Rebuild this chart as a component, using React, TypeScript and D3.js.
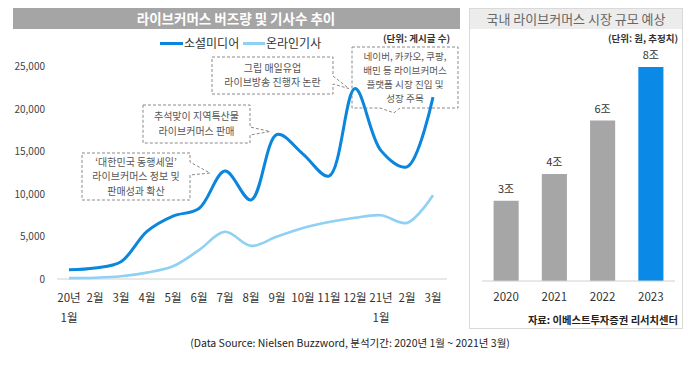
import * as d3 from "d3";

const FONT = "'Noto Sans CJK KR', 'Noto Sans', sans-serif";

// left chart data
const monthTop = ["20년", "2월", "3월", "4월", "5월", "6월", "7월", "8월", "9월", "10월", "11월", "12월", "21년", "2월", "3월"];
const monthBottom = ["1월", "", "", "", "", "", "", "", "", "", "", "", "1월", "", ""];
const socialMedia = [1080, 1300, 2030, 5600, 7400, 8300, 12700, 9300, 17000, 14700, 12100, 22400, 15100, 13200, 21400];
const onlineNews = [100, 150, 320, 750, 1500, 3400, 5550, 3900, 5000, 6000, 6700, 7200, 7500, 6600, 9850];
const yTicks = [0, 5000, 10000, 15000, 20000, 25000];

// right chart data
const years = ["2020", "2021", "2022", "2023"];
const marketSize = [3, 4, 6, 8];

const callouts = [
  { lines: ["그립 매일유업", "라이브방송 진행자 논란"], box: [212, 57, 333, 94], side: "right", base: [76, 84], at: 11, dx: -6, dy: 0 },
  { lines: ["네이버, 카카오, 쿠팡,", "배민 등 라이브커머스", "플랫폼 시장 진입 및", "성장 주목"], box: [352, 47, 458, 108], side: "bottom", base: [380, 400], at: 13, dx: -13, dy: -54 },
  { lines: ["추석맞이 지역특산물", "라이브커머스 판매"], box: [143, 105, 250, 143], side: "right", base: [127, 135], at: 8, dx: -7, dy: -3 },
  { lines: ["‘대한민국 동행세일’", "라이브커머스 정보 및", "판매성과 확산"], box: [82, 153, 190, 200], side: "right", base: [162, 175], at: 6, dx: -15, dy: 2 },
];

function calloutPath(box: number[], side: string, base: number[], tx: number, ty: number) {
  const [x0, y0, x1, y1] = box;
  if (side === "right") {
    return `M${x0},${y0}H${x1}V${base[0]}L${tx},${ty}L${x1},${base[1]}V${y1}H${x0}Z`;
  }
  return `M${x0},${y0}H${x1}V${y1}H${base[1]}L${tx},${ty}L${base[0]},${y1}H${x0}Z`;
}

const LineChart = () => {
  const x = d3.scalePoint<number>().domain(d3.range(monthTop.length)).range([69, 433]);
  const y = d3.scaleLinear().domain([0, 25000]).range([279, 66.5]);
  const line = d3
    .line<number>()
    .x((_, i) => x(i)!)
    .y((d) => y(d))
    .curve(d3.curveCatmullRom.alpha(0.5));

  return (
    <g fontFamily={FONT}>
      <rect x={13} y={8} width={447} height={21} fill="#a5a5a5" />
      <text x={236} y={23.5} textAnchor="middle" fill="#fff" fontSize={13.5} fontWeight={700}>
        라이브커머스 버즈량 및 기사수 추이
      </text>

      {/* legend */}
      <line x1={160} x2={183} y1={43.5} y2={43.5} stroke="#0a86dc" strokeWidth={3} />
      <text x={184} y={48} fontSize={12} fill="#333">소셜미디어</text>
      <line x1={243} x2={265} y1={43.5} y2={43.5} stroke="#8fd0f5" strokeWidth={3} />
      <text x={266} y={48} fontSize={12} fill="#333">온라인기사</text>
      <text x={450} y={42} textAnchor="end" fontSize={9.5} fontWeight={700} fill="#333">(단위: 게시글 수)</text>

      {yTicks.map((t) => (
        <text key={t} x={45} y={y(t) + 3.5} textAnchor="end" fontSize={10} fill="#444">
          {d3.format(",")(t)}
        </text>
      ))}
      <line x1={57} x2={447} y1={y(0)} y2={y(0)} stroke="#d0d0d0" strokeWidth={1} />

      {monthTop.map((m, i) => (
        <g key={i}>
          <text x={x(i)} y={302} textAnchor="middle" fontSize={11.5} fill="#333">{m}</text>
          {monthBottom[i] && (
            <text x={x(i)} y={322} textAnchor="middle" fontSize={11.5} fill="#333">{monthBottom[i]}</text>
          )}
        </g>
      ))}

      {callouts.map((c, k) => {
        const tx = x(c.at)! + c.dx;
        const ty = y(socialMedia[c.at]) + c.dy;
        const cx = (c.box[0] + c.box[2]) / 2;
        const cy = (c.box[1] + c.box[3]) / 2;
        const fs = c.lines.length > 3 ? 9.6 : 10;
        const lh = c.lines.length > 3 ? 14 : 14.6;
        const startY = cy - ((c.lines.length - 1) * lh) / 2 + 3.6;
        return (
          <g key={k}>
            <path d={calloutPath(c.box, c.side, c.base, tx, ty)} fill="none" stroke="#8a8a8a" strokeWidth={1} strokeDasharray="3,2" />
            {c.lines.map((l, j) => (
              <text key={j} x={cx} y={startY + j * lh} textAnchor="middle" fontSize={fs} fill="#555">{l}</text>
            ))}
          </g>
        );
      })}

      <path d={line(onlineNews)!} fill="none" stroke="#8fd0f5" strokeWidth={2.6} />
      <path d={line(socialMedia)!} fill="none" stroke="#0a86dc" strokeWidth={3} />

      <text x={350} y={347} textAnchor="middle" fontSize={10.5} fill="#222">
        (Data Source: Nielsen Buzzword, 분석기간: 2020년 1월 ~ 2021년 3월)
      </text>
    </g>
  );
};

const BarPanel = () => {
  const x = d3.scaleBand().domain(years).range([482, 675]).paddingInner(0.48).paddingOuter(0.24);
  const y = d3.scaleLinear().domain([0, 8]).range([281, 67]);

  return (
    <g fontFamily={FONT}>
      <rect x={469.5} y={8.5} width={213} height={320} fill="#fff" stroke="#d9d9d9" />
      <rect x={470} y={9} width={212} height={20} fill="#ececec" />
      <text x={576} y={24} textAnchor="middle" fontSize={13} fill="#666">국내 라이브커머스 시장 규모 예상</text>
      <text x={678} y={42} textAnchor="end" fontSize={9.5} fontWeight={700} fill="#333">(단위: 원, 추정치)</text>

      {years.map((yr, i) => (
        <g key={yr}>
          <rect
            x={x(yr)}
            y={y(marketSize[i])}
            width={x.bandwidth()}
            height={y(0) - y(marketSize[i])}
            fill={i === years.length - 1 ? "#0a8ae6" : "#a6a6a6"}
          />
          <text x={x(yr)! + x.bandwidth() / 2} y={y(marketSize[i]) - 8} textAnchor="middle" fontSize={11} fill="#333">
            {marketSize[i]}조
          </text>
          <text x={x(yr)! + x.bandwidth() / 2} y={301} textAnchor="middle" fontSize={11.5} fill="#333">{yr}</text>
        </g>
      ))}
      <line x1={482} x2={675} y1={y(0)} y2={y(0)} stroke="#d0d0d0" />
      <text x={678} y={324} textAnchor="end" fontSize={10.3} fontWeight={700} fill="#222">자료: 이베스트투자증권 리서치센터</text>
    </g>
  );
};

export default function App() {
  return (
    <svg width={700} height={370} style={{ position: "absolute", left: 0, top: 0, background: "#fff" }}>
      <rect width={700} height={370} fill="#fff" />
      <LineChart />
      <BarPanel />
    </svg>
  );
}
